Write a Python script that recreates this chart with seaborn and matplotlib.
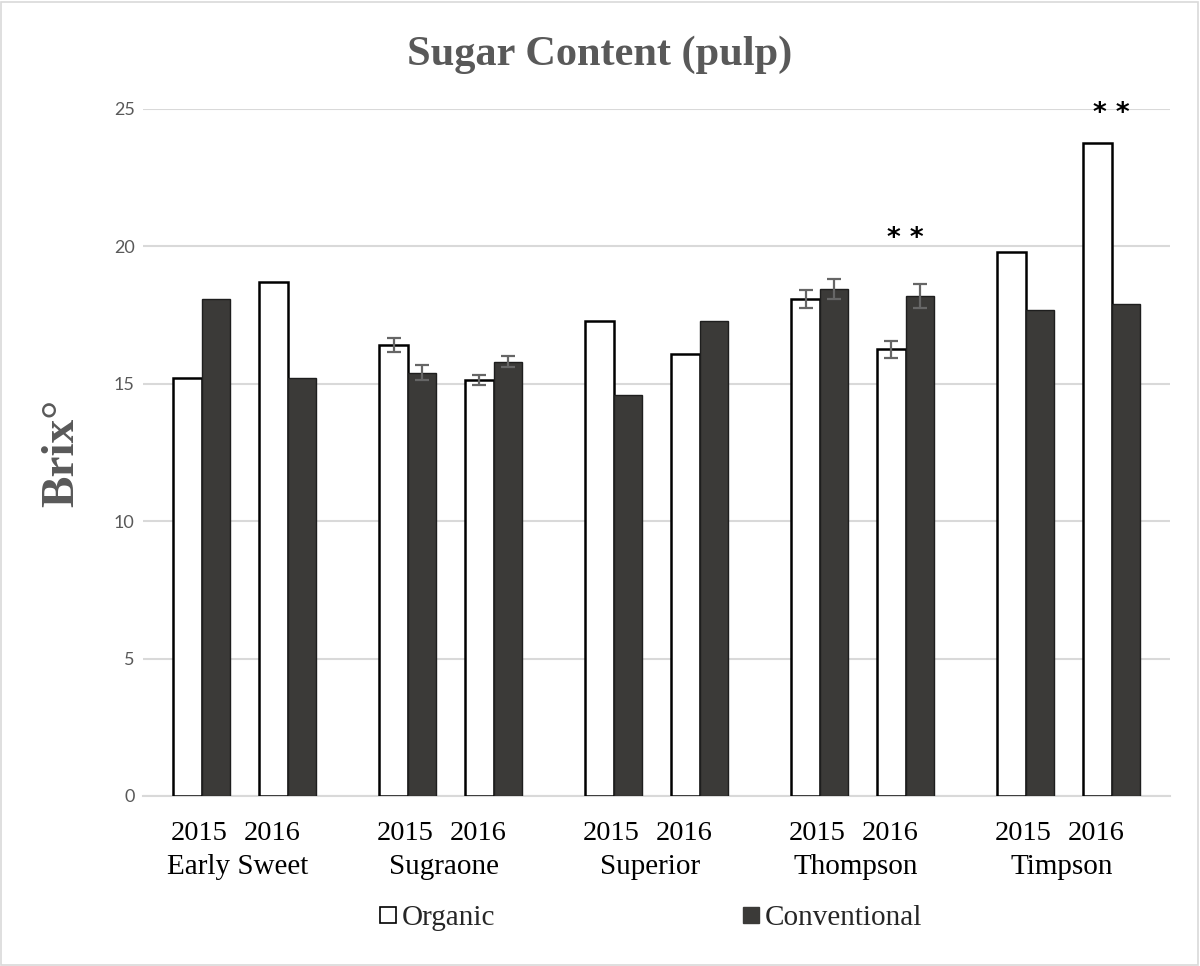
import numpy as np
import pandas as pd
import matplotlib
matplotlib.use("Agg")
import matplotlib.pyplot as plt
from matplotlib.lines import Line2D
from matplotlib.patches import Rectangle
from matplotlib.container import BarContainer
import seaborn as sns

# ---- data ----
varieties = ["Early Sweet", "Sugraone", "Superior", "Thompson", "Timpson"]
years = ["2015", "2016"]
organic = [15.2, 18.7, 16.4, 15.15, 17.3, 16.1, 18.1, 16.25, 19.8, 23.75]
conventional = [18.1, 15.2, 15.4, 15.8, 14.6, 17.3, 18.45, 18.2, 17.7, 17.9]
organic_err = [0, 0, 0.25, 0.18, 0, 0, 0.33, 0.32, 0, 0]
conventional_err = [0, 0, 0.27, 0.2, 0, 0, 0.37, 0.43, 0, 0]
significance = {(3, 1): "* *", (4, 1): "* *"}
sig_y = [20.25, 24.8]
title = "Sugar Content (pulp)"
ylabel = "Brix°"
yticks = [0, 5, 10, 15, 20, 25]

GROUP_STEP = 2.4
positions = [g * GROUP_STEP + y for g in range(len(varieties)) for y in range(len(years))]
# label offsets (as in the reference, labels sit slightly left of bar pairs)
YEAR_LABEL_SHIFT = [-0.035, -0.18]
NAME_LABEL_SHIFT = -0.08

df = pd.DataFrame({
    "pos": positions * 2,
    "value": organic + conventional,
    "type": ["Organic"] * len(organic) + ["Conventional"] * len(conventional),
})

sns.set_theme(style="white")
plt.rcParams["font.family"] = ["Liberation Serif", "DejaVu Serif"]

fig = plt.figure(figsize=(12, 9.66), dpi=100)
ax = fig.add_axes([0.1192, 0.176, 0.8558, 0.7112])

DARK = "#3b3a38"
GRAY = "#595959"
sns.barplot(data=df, x="pos", y="value", hue="type", native_scale=True,
            hue_order=["Organic", "Conventional"],
            palette={"Organic": "white", "Conventional": DARK},
            width=0.667, errorbar=None, legend=False, ax=ax, zorder=3)

edges = [("black", 1.8), ("#1e1e1e", 1.0)]
errs = [organic_err, conventional_err]
bar_conts = [c for c in ax.containers if isinstance(c, BarContainer)]
for ci, cont in enumerate(bar_conts):
    ec, lw = edges[ci]
    xs, hs = [], []
    for bar in cont:
        bar.set_edgecolor(ec)
        bar.set_linewidth(lw)
        xs.append(bar.get_x() + bar.get_width() / 2)
        hs.append(bar.get_height())
    order = np.argsort(xs)
    xs = np.array(xs)[order]
    hs = np.array(hs)[order]
    e = np.array(errs[ci])
    mask = e > 0
    ax.errorbar(xs[mask], hs[mask], yerr=e[mask], fmt="none", ecolor="#666666",
                elinewidth=1.6, capsize=5, capthick=1.6, zorder=4)

# significance markers
for (key, txt), yv in zip(significance.items(), sig_y):
    g, yi = key
    ax.text(g * GROUP_STEP + yi, yv, txt, ha="center", va="center",
            fontsize=19, fontweight="bold", color="black",
            family="DejaVu Sans")

ax.set_xlim(positions[0] - 0.685, positions[-1] + 0.68)
ax.set_ylim(0, 25)
ax.set_yticks(yticks)
ax.set_yticklabels([str(t) for t in yticks], fontsize=13, color=GRAY,
                   family=["Lato", "DejaVu Sans"])
ax.yaxis.grid(True, color="#d9d9d9", linewidth=1.5, zorder=0)
ax.set_axisbelow(True)
for s in ["left", "right", "top"]:
    ax.spines[s].set_visible(False)
ax.spines["bottom"].set_color("#d9d9d9")
ax.spines["bottom"].set_linewidth(1.5)
ax.tick_params(axis="both", length=0)
ax.tick_params(axis="y", pad=6)

tick_pos = [p + YEAR_LABEL_SHIFT[i % 2] for i, p in enumerate(positions)]
ax.set_xticks(tick_pos)
ax.set_xticklabels(years * len(varieties), fontsize=20.5, color="black")
ax.tick_params(axis="x", pad=18)
ax.set_xlabel("")

trans = matplotlib.transforms.blended_transform_factory(ax.transData, fig.transFigure)
for g, name in enumerate(varieties):
    cx = g * GROUP_STEP + 0.5 + NAME_LABEL_SHIFT
    ax.text(cx, 1 - 867 / 966, name, transform=trans, ha="center", va="center",
            fontsize=21, color="black")

ax.set_ylabel(ylabel, fontsize=34, fontweight="bold", color=GRAY, labelpad=22)
fig.text(0.5, 1 - 55 / 966, title, ha="center", va="center",
         fontsize=30.5, fontweight="bold", color=GRAY)

handles = [Line2D([], [], marker="s", linestyle="none", markersize=11,
                  markerfacecolor="white", markeredgecolor="black", markeredgewidth=1.2),
           Line2D([], [], marker="s", linestyle="none", markersize=11,
                  markerfacecolor=DARK, markeredgecolor=DARK)]
fig.legend(handles, ["Organic", "Conventional"], loc="center",
           bbox_to_anchor=(0.541, 1 - 918 / 966), ncol=2, frameon=False,
           fontsize=21, handletextpad=0.05, columnspacing=8.4, handlelength=0.8)

fig.add_artist(Rectangle((0.001, 0.001), 0.997, 0.997, transform=fig.transFigure,
                         fill=False, edgecolor="#d9d9d9", linewidth=1.2))

fig.savefig("out.png", dpi=100)
